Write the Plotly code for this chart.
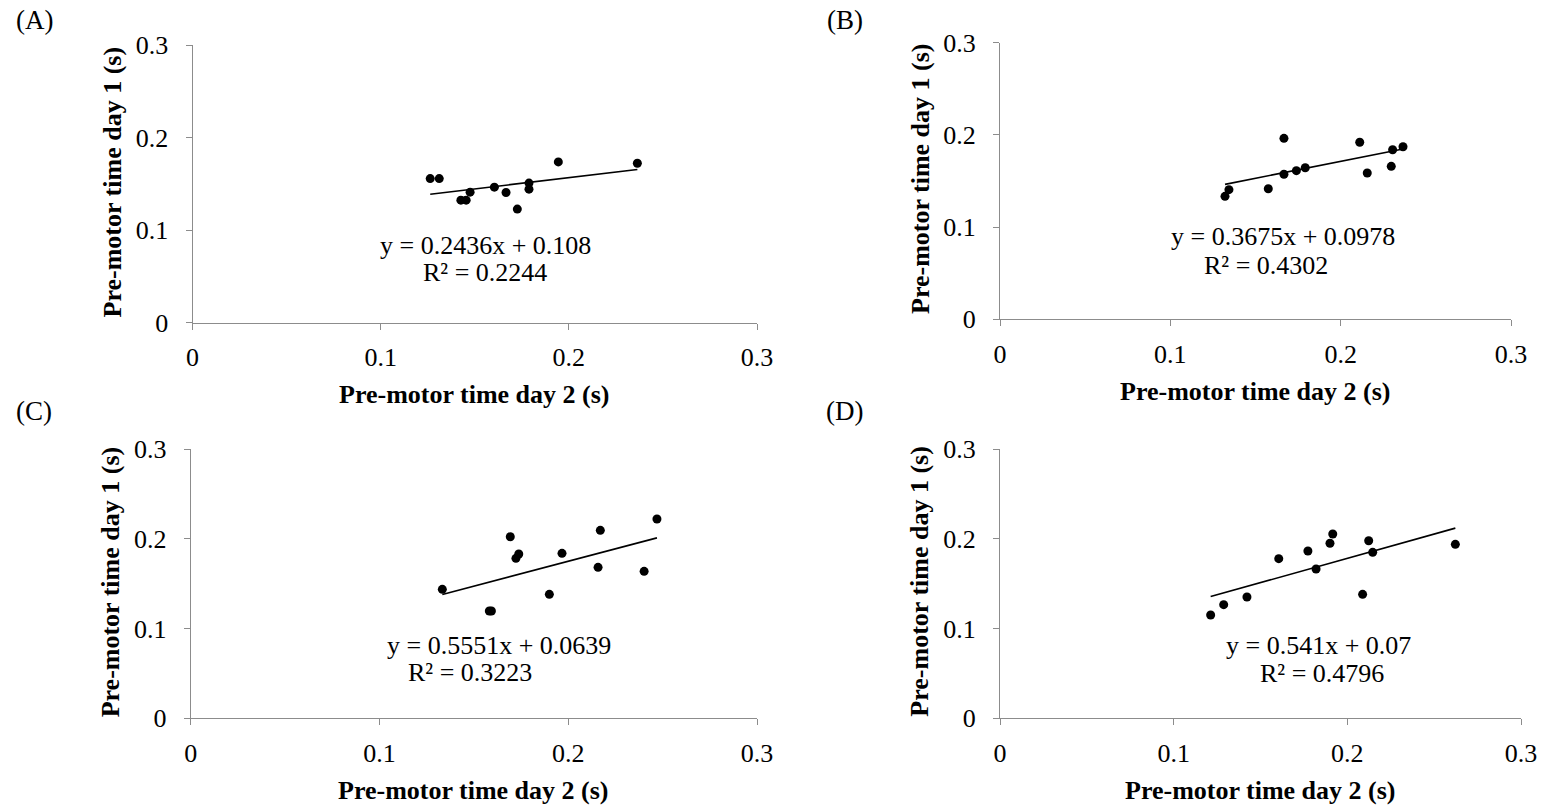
import plotly.graph_objects as go

W, H = 1544, 807

# ---------------- data ----------------
panel_labels = ["(A)", "(B)", "(C)", "(D)"]
x_title = "Pre-motor time day 2 (s)"
y_title = "Pre-motor time day 1 (s)"
tick_vals = [0, 0.1, 0.2, 0.3]
tick_text = ["0", "0.1", "0.2", "0.3"]

a_day2 = [0.1263, 0.1311, 0.1426, 0.1454, 0.1475, 0.1604, 0.1666, 0.1726, 0.1788, 0.1788, 0.1944, 0.2364]
a_day1 = [0.1557, 0.1557, 0.1324, 0.1324, 0.1410, 0.1464, 0.1406, 0.1227, 0.1508, 0.1443, 0.1737, 0.1723]
b_day2 = [0.1321, 0.1344, 0.1575, 0.1667, 0.1667, 0.1740, 0.1792, 0.2112, 0.2156, 0.2297, 0.2305, 0.2366]
b_day1 = [0.1334, 0.1406, 0.1416, 0.1963, 0.1573, 0.1612, 0.1644, 0.1920, 0.1587, 0.1659, 0.1839, 0.1872]
c_day2 = [0.1333, 0.1582, 0.1593, 0.1693, 0.1723, 0.1738, 0.1900, 0.1967, 0.2158, 0.2170, 0.2402, 0.2470]
c_day1 = [0.1437, 0.1195, 0.1195, 0.2023, 0.1782, 0.1830, 0.1381, 0.1838, 0.1682, 0.2094, 0.1637, 0.2220]
d_day2 = [0.1213, 0.1288, 0.1422, 0.1605, 0.1773, 0.1820, 0.1900, 0.1916, 0.2088, 0.2123, 0.2146, 0.2622]
d_day1 = [0.1151, 0.1266, 0.1351, 0.1778, 0.1864, 0.1663, 0.1950, 0.2053, 0.1381, 0.1978, 0.1849, 0.1938]

slopes = [0.2436, 0.3675, 0.5551, 0.541]
intercepts = [0.108, 0.0978, 0.0639, 0.07]
equations = ["y = 0.2436x + 0.108", "y = 0.3675x + 0.0978", "y = 0.5551x + 0.0639", "y = 0.541x + 0.07"]
r2_texts = ["R² = 0.2244", "R² = 0.4302", "R² = 0.3223", "R² = 0.4796"]

xs = [a_day2, b_day2, c_day2, d_day2]
ys = [a_day1, b_day1, c_day1, d_day1]

# ---------------- layout geometry (pixels) ----------------
plot_px = [  # x0, x1, ytop, ybottom
    (192.6, 757, 45, 322.7),
    (1000, 1511, 42.7, 319.3),
    (190.7, 757, 449, 718.3),
    (1000, 1521, 449, 718.3),
]
label_pos = [(34, 20), (845, 20), (34, 411), (845, 411)]
eq_pos = [(485, 245), (1283, 237), (499, 645), (1318, 645)]
r2_pos = [(485, 272), (1266, 265), (470, 672), (1322, 673)]

FONT = "Liberation Serif, Times New Roman, serif"
AXIS_GREY = "#8c8c8c"


def px(x):
    return x / W


def py(y):
    return 1 - y / H


fig = go.Figure()
annotations = []

for i in range(4):
    ax = "" if i == 0 else str(i + 1)
    x0, x1, yt, yb = plot_px[i]
    # scatter points
    fig.add_trace(go.Scatter(
        x=xs[i], y=ys[i], mode="markers",
        marker=dict(color="black", size=9),
        xaxis="x" + ax, yaxis="y" + ax, showlegend=False,
    ))
    # linear trendline
    lx = [min(xs[i]), max(xs[i])]
    ly = [slopes[i] * v + intercepts[i] for v in lx]
    fig.add_trace(go.Scatter(
        x=lx, y=ly, mode="lines",
        line=dict(color="black", width=1.6),
        xaxis="x" + ax, yaxis="y" + ax, showlegend=False,
    ))
    common = dict(
        range=[0, 0.3], tickvals=tick_vals, ticktext=tick_text,
        showgrid=False, zeroline=False, showline=True,
        linecolor=AXIS_GREY, linewidth=1.2,
        ticks="outside", ticklen=6, tickcolor=AXIS_GREY, tickwidth=1.2,
        tickfont=dict(family=FONT, size=26, color="black"),
        fixedrange=True, automargin=False,
    )
    fig.layout["xaxis" + ax] = dict(
        common, domain=[px(x0), px(x1)], anchor="y" + ax, ticklabelstandoff=5,
    )
    fig.layout["yaxis" + ax] = dict(
        common, domain=[py(yb), py(yt)], anchor="x" + ax, ticklabelstandoff=12,
    )
    # panel label
    annotations.append(dict(
        text=panel_labels[i], x=px(label_pos[i][0]), y=py(label_pos[i][1]),
        xref="paper", yref="paper", showarrow=False,
        font=dict(family=FONT, size=27, color="black"),
        xanchor="center", yanchor="middle",
    ))
    # axis titles
    annotations.append(dict(
        text="<b>" + x_title + "</b>", x=px((x0 + x1) / 2), y=py(yb + 72),
        xref="paper", yref="paper", showarrow=False,
        font=dict(family=FONT, size=26, color="black"),
        xanchor="center", yanchor="middle",
    ))
    annotations.append(dict(
        text="<b>" + y_title + "</b>", x=px(x0 - 80), y=py((yt + yb) / 2 - 2),
        xref="paper", yref="paper", showarrow=False, textangle=-90,
        font=dict(family=FONT, size=26, color="black"),
        xanchor="center", yanchor="middle",
    ))
    # equation and R²
    annotations.append(dict(
        text=equations[i], x=px(eq_pos[i][0]), y=py(eq_pos[i][1]),
        xref="paper", yref="paper", showarrow=False,
        font=dict(family=FONT, size=26, color="black"),
        xanchor="center", yanchor="middle",
    ))
    annotations.append(dict(
        text=r2_texts[i], x=px(r2_pos[i][0]), y=py(r2_pos[i][1]),
        xref="paper", yref="paper", showarrow=False,
        font=dict(family=FONT, size=26, color="black"),
        xanchor="center", yanchor="middle",
    ))

fig.update_layout(
    width=W, height=H,
    margin=dict(l=0, r=0, t=0, b=0, autoexpand=False),
    paper_bgcolor="white", plot_bgcolor="white",
    annotations=annotations,
    showlegend=False,
)

fig.write_html("out.html", config={"displayModeBar": False})
